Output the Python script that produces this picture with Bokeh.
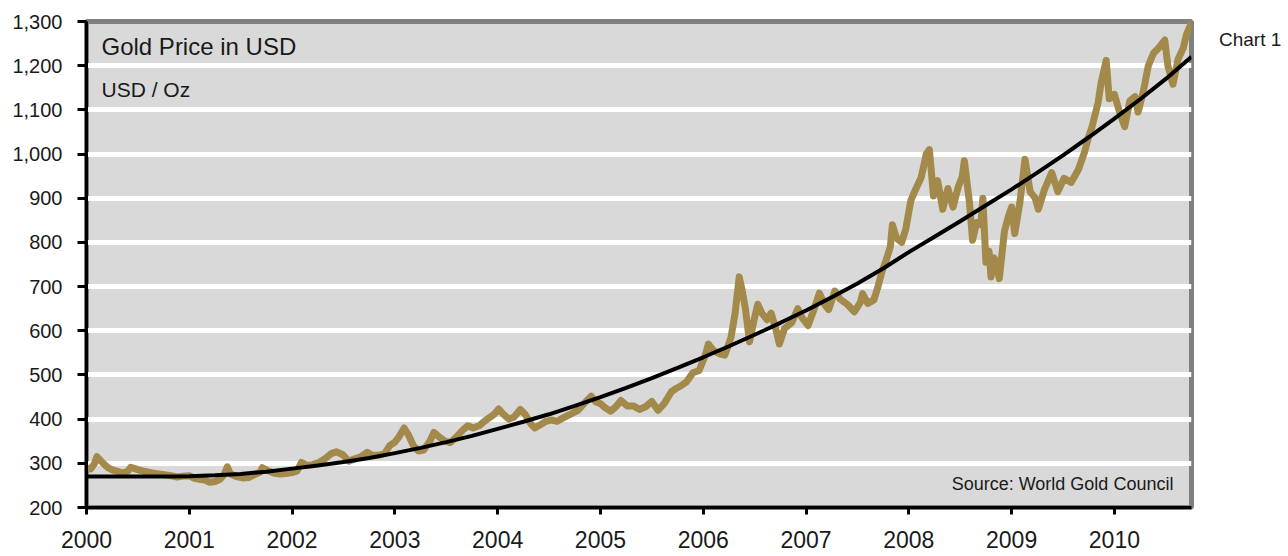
from bokeh.plotting import figure
from bokeh.layouts import row
from bokeh.models import Range1d, FixedTicker, NumeralTickFormatter, Label, CustomJSTickFormatter, Div
from bokeh.embed import file_html
from bokeh.resources import INLINE

# --- data ---
gold_year = [
    2000.00, 2000.04, 2000.08, 2000.10, 2000.13, 2000.17, 2000.21, 2000.25, 2000.30, 2000.35,
    2000.40, 2000.43, 2000.47, 2000.52, 2000.58, 2000.64, 2000.70, 2000.76, 2000.82, 2000.88,
    2000.94, 2001.00, 2001.05, 2001.10, 2001.15, 2001.20, 2001.25, 2001.30, 2001.34, 2001.37,
    2001.40, 2001.46, 2001.52, 2001.58, 2001.63, 2001.69, 2001.71, 2001.76, 2001.82, 2001.88,
    2001.94, 2002.00, 2002.05, 2002.09, 2002.14, 2002.20, 2002.26, 2002.32, 2002.38, 2002.43,
    2002.49, 2002.55, 2002.61, 2002.67, 2002.73, 2002.78, 2002.84, 2002.90, 2002.95, 2003.00,
    2003.04, 2003.09, 2003.13, 2003.18, 2003.23, 2003.28, 2003.34, 2003.38, 2003.43, 2003.49,
    2003.54, 2003.60, 2003.66, 2003.71, 2003.76, 2003.82, 2003.87, 2003.93, 2003.97, 2004.01,
    2004.06, 2004.11, 2004.16, 2004.22, 2004.27, 2004.32, 2004.36, 2004.42, 2004.47, 2004.52,
    2004.58, 2004.63, 2004.70, 2004.78, 2004.84, 2004.91, 2004.95, 2005.00, 2005.05, 2005.10,
    2005.15, 2005.20, 2005.26, 2005.32, 2005.38, 2005.44, 2005.50, 2005.56, 2005.62, 2005.69,
    2005.74, 2005.78, 2005.84, 2005.90, 2005.96, 2006.02, 2006.05, 2006.10, 2006.16, 2006.21,
    2006.27, 2006.31, 2006.35, 2006.38, 2006.41, 2006.45, 2006.49, 2006.53, 2006.57, 2006.62,
    2006.66, 2006.71, 2006.74, 2006.79, 2006.86, 2006.92, 2006.96, 2007.02, 2007.08, 2007.13,
    2007.18, 2007.22, 2007.28, 2007.33, 2007.40, 2007.47, 2007.53, 2007.55, 2007.60, 2007.66,
    2007.70, 2007.74, 2007.78, 2007.82, 2007.84, 2007.88, 2007.93, 2007.97, 2008.02, 2008.07,
    2008.12, 2008.17, 2008.20, 2008.24, 2008.28, 2008.33, 2008.38, 2008.43, 2008.48, 2008.52,
    2008.54, 2008.59, 2008.62, 2008.66, 2008.70, 2008.72, 2008.75, 2008.78, 2008.80, 2008.83,
    2008.86, 2008.88, 2008.93, 2008.97, 2009.00, 2009.03, 2009.08, 2009.13, 2009.18, 2009.23,
    2009.26, 2009.32, 2009.39, 2009.45, 2009.51, 2009.58, 2009.65, 2009.71, 2009.75, 2009.78,
    2009.84, 2009.87, 2009.92, 2009.95, 2010.00, 2010.05, 2010.10, 2010.15, 2010.20, 2010.23,
    2010.28, 2010.33, 2010.38, 2010.43, 2010.49, 2010.52, 2010.57, 2010.62, 2010.67, 2010.70,
    2010.75,
]
gold_price = [
    290, 287, 300, 315, 308, 298, 290, 285, 282, 278,
    282, 291, 288, 284, 281, 278, 276, 274, 272, 269,
    271, 272, 266, 264, 262, 257, 259, 264, 275, 292,
    276, 270, 267, 268, 274, 280, 290, 284, 278, 276,
    277, 279, 283, 302, 296, 297, 302, 310, 322, 326,
    320, 305, 310, 315, 325, 318, 318, 322, 340, 348,
    360, 380, 365, 340, 328, 330, 350, 370, 360, 350,
    347, 360, 375, 385, 380, 385, 395, 405, 412, 423,
    410, 400, 405, 422, 410, 390, 380, 388, 395, 398,
    395, 402, 410, 420, 435, 452, 440, 435, 425, 418,
    428, 442, 430, 430, 422, 428, 440, 420, 435, 462,
    470, 475, 485, 505, 510, 545, 570, 555, 548, 545,
    585, 640, 722, 690, 650, 575, 620, 660, 640, 625,
    640, 600, 570, 605, 618, 650, 630, 612, 650, 685,
    660, 648, 690, 672, 660, 643, 665, 684, 662, 670,
    700, 735, 760, 790, 840, 810, 800, 830, 895, 922,
    947, 1000, 1010, 905, 940, 875, 922, 880, 925, 950,
    985, 890, 805, 845, 840, 900, 755, 780, 722, 765,
    745, 718, 825, 860, 880, 820, 890, 988, 915, 900,
    875, 920, 958, 915, 945, 936, 965, 1005, 1040, 1060,
    1115, 1160, 1212, 1125, 1135, 1095, 1062, 1120, 1130, 1095,
    1140, 1200, 1228, 1240, 1258, 1200, 1158, 1215, 1240, 1270,
    1298,
]
trend_year = [
    2000.00, 2000.25, 2000.50, 2000.75, 2001.00, 2001.25, 2001.50, 2001.75,
    2002.00, 2002.25, 2002.50, 2002.75, 2003.00, 2003.25, 2003.50, 2003.75,
    2004.00, 2004.25, 2004.50, 2004.75, 2005.00, 2005.25, 2005.50, 2005.75,
    2006.00, 2006.25, 2006.50, 2006.75, 2007.00, 2007.25, 2007.50, 2007.75,
    2008.00, 2008.25, 2008.50, 2008.75, 2009.00, 2009.25, 2009.50, 2009.75,
    2010.00, 2010.25, 2010.50, 2010.75,
]
trend_price = [
    270, 270, 270, 270, 271, 273, 276, 281,
    288, 295, 303, 312, 323, 335, 348, 362,
    378, 394, 411, 430, 450, 471, 493, 516,
    540, 565, 591, 618, 646, 676, 707, 741,
    778, 813, 848, 884, 920, 958, 997, 1038,
    1080, 1124, 1170, 1220,
]
x_ticks = [2000, 2001, 2002, 2003, 2004, 2005, 2006, 2007, 2008, 2009, 2010]
y_ticks = [200, 300, 400, 500, 600, 700, 800, 900, 1000, 1100, 1200, 1300]

FONT = "Liberation Sans"
TXT = "#1a1a1a"

p = figure(width=1200, height=556, output_backend="svg", toolbar_location=None,
           x_range=Range1d(2000, 2010.75), y_range=Range1d(200, 1300),
           min_border_left=86, min_border_right=9, min_border_top=21, min_border_bottom=49)
p.background_fill_color = "#d9d9d9"
p.border_fill_color = "white"
p.outline_line_color = "#808080"
p.outline_line_width = 5

p.xgrid.grid_line_color = None
p.ygrid.ticker = FixedTicker(ticks=y_ticks)
p.ygrid.grid_line_color = "white"
p.ygrid.grid_line_width = 5

for ax in (p.xaxis[0], p.yaxis[0]):
    ax.axis_line_color = "black"
    ax.axis_line_width = 3
    ax.major_tick_line_color = "black"
    ax.major_tick_line_width = 3
    ax.major_tick_in = 0
    ax.minor_tick_line_color = None
    ax.major_label_text_font = FONT
    ax.major_label_text_color = TXT

p.xaxis.ticker = FixedTicker(ticks=x_ticks)
p.xaxis.formatter = CustomJSTickFormatter(code="return tick.toFixed(0);")
p.xaxis.major_tick_out = 7
p.xaxis.major_label_standoff = 16
p.xaxis.major_label_text_font_size = "23px"

p.yaxis.ticker = FixedTicker(ticks=y_ticks)
p.yaxis.formatter = NumeralTickFormatter(format="0,0")
p.yaxis.major_tick_out = 9
p.yaxis.major_label_standoff = 15
p.yaxis.major_label_text_font_size = "20px"

p.line(gold_year, gold_price, line_color="#a3894a", line_width=7, line_join="round", line_cap="round")
p.line(trend_year, trend_price, line_color="black", line_width=4)

p.add_layout(Label(x=2000.146, y=1243, text="Gold Price in USD", text_font=FONT,
                   text_font_size="24px", text_color=TXT, text_baseline="middle"))
p.add_layout(Label(x=2000.146, y=1145, text="USD / Oz", text_font=FONT,
                   text_font_size="21px", text_color=TXT, text_baseline="middle"))
p.add_layout(Label(x=2010.574, y=254, text="Source: World Gold Council", text_font=FONT,
                   text_font_size="18px", text_color=TXT, text_baseline="middle", text_align="right"))

side = Div(text="Chart 1", width=84, height=556,
           styles={"font-family": FONT, "font-size": "19px", "color": TXT,
                   "padding-left": "14px", "padding-top": "24px", "line-height": "22px",
                   "white-space": "nowrap"})

open("out.html", "w").write(file_html(row(p, side), INLINE))
